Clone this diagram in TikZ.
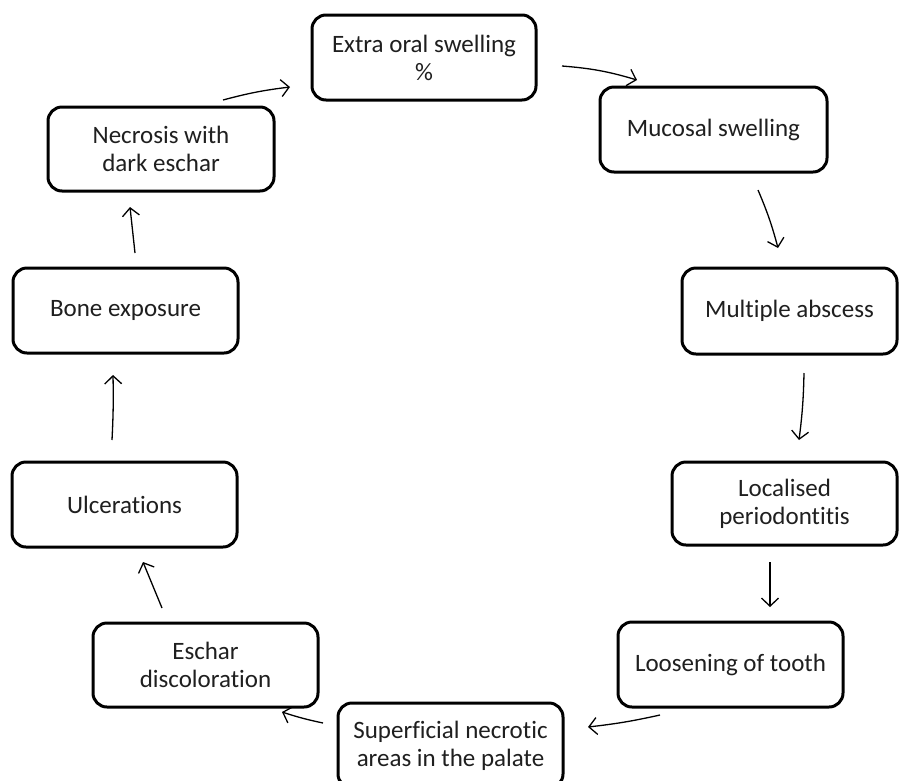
\documentclass[tikz,border=0pt]{standalone}
\usepackage{fontspec}
\setmainfont[Ligatures={NoCommon}]{Carlito}
\usetikzlibrary{arrows.meta}
\begin{document}
\begin{tikzpicture}[x=1pt,y=-1pt,
  box/.style={draw=black, line width=3pt, rounded corners=14pt, align=center,
    inner sep=0pt, text=black!88, font=\fontsize{25}{28}\selectfont},
  flow/.style={line width=1.3pt, -{Straight Barb[length=8pt,width=17pt,line width=1.3pt]}}]
\clip (0,0) rectangle (899,780);
\fill[white] (0,0) rectangle (899,780);
\node[box, minimum width=224pt, minimum height=85pt] (extra) at (424,57.5) {Extra oral swelling\\\%};
\node[box, minimum width=227pt, minimum height=85pt] (mucosal) at (713.5,129.5) {Mucosal swelling};
\node[box, minimum width=215pt, minimum height=86pt] (multiple) at (789.5,311) {Multiple abscess};
\node[box, minimum width=225pt, minimum height=83pt] (localised) at (784.5,503.5) {Localised\\periodontitis};
\node[box, minimum width=225pt, minimum height=85pt] (loosening) at (730.5,664.5) {Loosening of tooth};
\node[box, minimum width=225pt, minimum height=85pt] (superficial) at (450.5,745.5) {Superficial necrotic\\areas in the palate};
\node[box, minimum width=225pt, minimum height=84pt] (eschar) at (205.5,665) {Eschar\\discoloration};
\node[box, minimum width=225pt, minimum height=85pt] (ulcerations) at (124.5,504.5) {Ulcerations};
\node[box, minimum width=225pt, minimum height=85pt] (bone) at (125.5,310.5) {Bone exposure};
\node[box, minimum width=226pt, minimum height=84pt] (necrosis) at (161,149) {Necrosis with\\dark eschar};
% arrow end points
\coordinate (a1s) at (562,66);   \coordinate (a1e) at (637,80);
\coordinate (a2s) at (758,190);  \coordinate (a2e) at (778,248);
\coordinate (a3s) at (804,373);  \coordinate (a3e) at (799,440);
\coordinate (a4s) at (770,562);  \coordinate (a4e) at (770,607);
\coordinate (a5s) at (660,715);  \coordinate (a5e) at (588,727);
\coordinate (a6s) at (323,723);  \coordinate (a6e) at (282,712);
\coordinate (a7s) at (162,608);  \coordinate (a7e) at (143,562);
\coordinate (a8s) at (112,440);  \coordinate (a8e) at (113,375);
\coordinate (a9s) at (135,253);  \coordinate (a9e) at (130,207);
\coordinate (a10s) at (223,100); \coordinate (a10e) at (290,87);
\draw[flow] (a1s) to[bend left=6] (a1e);
\draw[flow] (a2s) to[bend left=4] (a2e);
\draw[flow] (a3s) to[bend left=3] (a3e);
\draw[flow] (a4s) -- (a4e);
\draw[flow] (a5s) to[bend left=3] (a5e);
\draw[flow] (a6s) to[bend left=3] (a6e);
\draw[flow] (a7s) -- (a7e);
\draw[flow] (a8s) to[bend right=2] (a8e);
\draw[flow] (a9s) -- (a9e);
\draw[flow] (a10s) to[bend left=4] (a10e);
\end{tikzpicture}
\end{document}
